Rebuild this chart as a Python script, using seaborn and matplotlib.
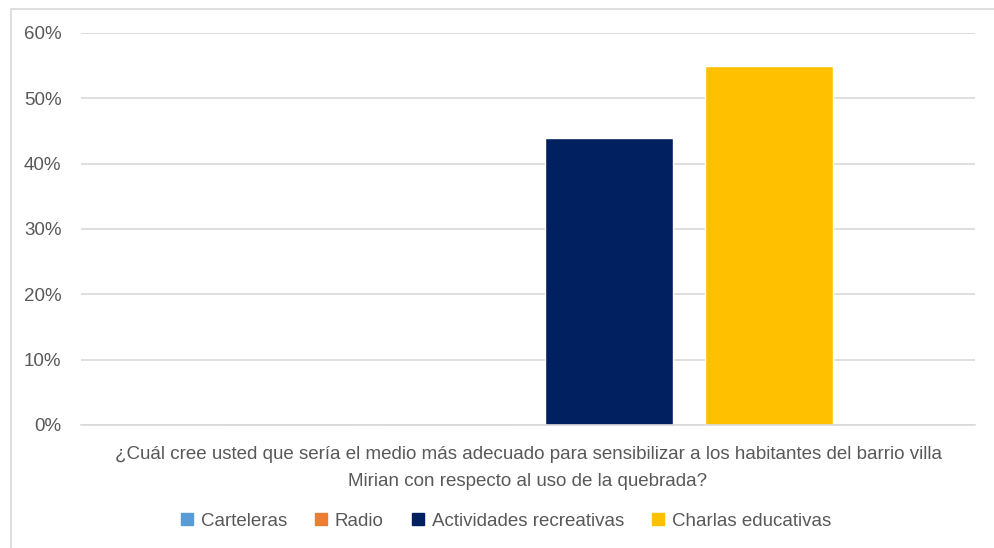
import matplotlib
matplotlib.use("Agg")
import matplotlib.pyplot as plt
import matplotlib.patches as mpatches
import pandas as pd
import seaborn as sns

QUESTION = ("¿Cuál cree usted que sería el medio más adecuado para sensibilizar a los habitantes del barrio villa\n"
            "Mirian con respecto al uso de la quebrada?")
SERIES = ["Carteleras", "Radio", "Actividades recreativas", "Charlas educativas"]
VALUES = [0.0, 0.0, 0.44, 0.55]
COLORS = ["#5B9BD5", "#ED7D31", "#002060", "#FFC000"]
Y_TICKS = [0, 0.1, 0.2, 0.3, 0.4, 0.5, 0.6]

df = pd.DataFrame({"Pregunta": [QUESTION] * len(SERIES), "Serie": SERIES, "Valor": VALUES})

sns.set_theme(style="white")
plt.rcParams["font.family"] = ["Liberation Sans", "DejaVu Sans"]
text_color = "#595959"

fig = plt.figure(figsize=(9.94, 5.48), dpi=100)
ax = fig.add_axes([0.0815, 0.2245, 0.8995, 0.7153])

sns.barplot(data=df, x="Pregunta", y="Valor", hue="Serie", hue_order=SERIES,
            palette=COLORS, width=0.72, gap=0.205, saturation=1, ax=ax, legend=False)

ax.set_xlim(-0.5, 0.5)
ax.set_ylim(0, 0.6)
ax.set_yticks(Y_TICKS)
ax.set_yticklabels([f"{int(round(t * 100))}%" for t in Y_TICKS])
ax.yaxis.grid(True, color="#D9D9D9", linewidth=1.2)
ax.set_axisbelow(True)
for side in ["top", "right", "left"]:
    ax.spines[side].set_visible(False)
ax.spines["bottom"].set_color("#D9D9D9")
ax.spines["bottom"].set_linewidth(1.2)
ax.tick_params(axis="both", length=0, colors=text_color, labelsize=13.5)
ax.tick_params(axis="x", pad=15)
ax.tick_params(axis="y", pad=14)
ax.set_xlabel("")
ax.set_ylabel("")
for lbl in ax.get_xticklabels():
    lbl.set_linespacing(1.75)

handles = [mpatches.Patch(color=c, label=s) for s, c in zip(SERIES, COLORS)]
fig.legend(handles=handles, loc="center", bbox_to_anchor=(0.509, 0.049), ncol=4, frameon=False,
           fontsize=13.5, handlelength=0.65, handleheight=0.65, handletextpad=0.4, columnspacing=1.5,
           labelcolor=text_color)

fig.patches.append(mpatches.Rectangle((11 / 994, -0.01), 1.0, 1 - 9 / 548 + 0.01,
                                      transform=fig.transFigure, fill=False,
                                      edgecolor="#D9D9D9", linewidth=1.2))

fig.savefig("out.png", dpi=100)
